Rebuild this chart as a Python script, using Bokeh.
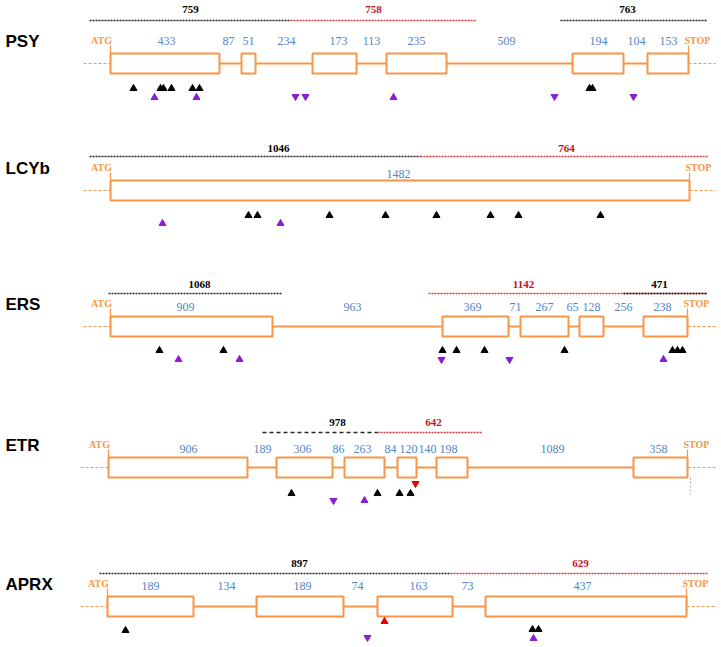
from bokeh.plotting import figure
from bokeh.models import Range1d
from bokeh.core.properties import value
from bokeh.embed import file_html
from bokeh.resources import INLINE

ORANGE = "#F79646"
BLUE = "#4F86C6"
RED = "#C0151B"
PURPLE = "#8A1FD0"
BLACK = "#000000"

genes = ["PSY", "LCYb", "ERS", "ETR", "APRX"]
gene_y = [63, 190, 326, 467, 606]

# exon boxes (diagram x units)
PSY_ex_start = [110, 241, 312, 386, 572, 647]
PSY_ex_end = [219, 255, 356, 446, 623, 688]
LCYb_ex_start = [110]
LCYb_ex_end = [689]
ERS_ex_start = [110, 442, 520, 579, 643]
ERS_ex_end = [272, 508, 568, 603, 687]
ETR_ex_start = [108, 276, 344, 397, 436, 633]
ETR_ex_end = [247, 332, 384, 416, 467, 687]
APRX_ex_start = [107, 256, 377, 485]
APRX_ex_end = [193, 343, 452, 686]

# length labels (exons and introns)
PSY_len = ["433", "87", "51", "234", "173", "113", "235", "509", "194", "104", "153"]
PSY_len_x = [166, 228, 248, 286, 338, 371, 416, 506, 598, 636, 668]
LCYb_len = ["1482"]
LCYb_len_x = [398]
ERS_len = ["909", "963", "369", "71", "267", "65", "128", "256", "238"]
ERS_len_x = [185, 352, 472, 515, 544, 572, 591, 623, 662]
ETR_len = ["906", "189", "306", "86", "263", "84", "120", "140", "198", "1089", "358"]
ETR_len_x = [188, 262, 302, 338, 362, 390, 408, 427, 448, 552, 658]
APRX_len = ["189", "134", "189", "74", "163", "73", "437"]
APRX_len_x = [150, 226, 302, 357, 418, 467, 582]
len_label_y = [40, 173, 306, 448, 585]

# fragment bars above each gene
PSY_frag = ["759", "758", "763"]
PSY_frag_x0 = [89, 290, 560]
PSY_frag_x1 = [290, 475, 707]
PSY_frag_lx = [190, 373, 627]
PSY_frag_col = [BLACK, RED, BLACK]
LCYb_frag = ["1046", "764"]
LCYb_frag_x0 = [89, 420]
LCYb_frag_x1 = [420, 707]
LCYb_frag_lx = [278, 566]
LCYb_frag_col = [BLACK, RED]
ERS_frag = ["1068", "1142", "471"]
ERS_frag_x0 = [108, 428, 623]
ERS_frag_x1 = [282, 707, 707]
ERS_frag_lx = [199, 523, 659]
ERS_frag_col = [BLACK, RED, BLACK]
ETR_frag = ["978", "642"]
ETR_frag_x0 = [262, 377]
ETR_frag_x1 = [377, 482]
ETR_frag_lx = [337, 433]
ETR_frag_col = [BLACK, RED]
APRX_frag = ["897", "629"]
APRX_frag_x0 = [99, 450]
APRX_frag_x1 = [450, 707]
APRX_frag_lx = [299, 580]
APRX_frag_col = [BLACK, RED]
frag_line_y = [20, 156, 293, 432, 573]
frag_label_y = [9, 148, 284, 422, 563]

# markers: x, y, kind (u=up, d=down), colour
PSY_mk_x = [133, 160, 163, 171, 192, 199, 154, 196, 295, 305, 393, 554, 589, 592, 633]
PSY_mk_y = [88, 88, 88, 88, 88, 88, 97, 97, 96, 96, 97, 96, 88, 88, 96]
PSY_mk_k = ["u", "u", "u", "u", "u", "u", "u", "u", "d", "d", "u", "d", "u", "u", "d"]
PSY_mk_c = [BLACK] * 6 + [PURPLE] * 6 + [BLACK, BLACK, PURPLE]
LCYb_mk_x = [162, 248, 257, 280, 329, 385, 436, 490, 518, 600]
LCYb_mk_y = [223, 215, 215, 223, 215, 215, 215, 215, 215, 215]
LCYb_mk_k = ["u"] * 10
LCYb_mk_c = [PURPLE, BLACK, BLACK, PURPLE] + [BLACK] * 6
ERS_mk_x = [159, 178, 223, 239, 442, 456, 484, 441, 509, 564, 663, 672, 677, 682]
ERS_mk_y = [350, 359, 350, 359, 350, 350, 350, 359, 359, 350, 359, 350, 350, 350]
ERS_mk_k = ["u", "u", "u", "u", "u", "u", "u", "d", "d", "u", "u", "u", "u", "u"]
ERS_mk_c = [BLACK, PURPLE, BLACK, PURPLE, BLACK, BLACK, BLACK, PURPLE, PURPLE, BLACK, PURPLE, BLACK, BLACK, BLACK]
ETR_mk_x = [291, 333, 364, 377, 399, 410, 415]
ETR_mk_y = [493, 500, 500, 493, 493, 493, 483]
ETR_mk_k = ["u", "d", "u", "u", "u", "u", "d"]
ETR_mk_c = [BLACK, PURPLE, PURPLE, BLACK, BLACK, BLACK, "#E00000"]
APRX_mk_x = [125, 384, 367, 532, 538, 533]
APRX_mk_y = [630, 621, 637, 629, 629, 638]
APRX_mk_k = ["u", "u", "d", "u", "u", "u"]
APRX_mk_c = [BLACK, "#E00000", PURPLE, BLACK, BLACK, PURPLE]

flank_left = [83, 83, 83, 80, 80]
flank_right = 715

data = {
    "PSY": (PSY_ex_start, PSY_ex_end, PSY_len, PSY_len_x, PSY_frag, PSY_frag_x0, PSY_frag_x1, PSY_frag_lx, PSY_frag_col, PSY_mk_x, PSY_mk_y, PSY_mk_k, PSY_mk_c),
    "LCYb": (LCYb_ex_start, LCYb_ex_end, LCYb_len, LCYb_len_x, LCYb_frag, LCYb_frag_x0, LCYb_frag_x1, LCYb_frag_lx, LCYb_frag_col, LCYb_mk_x, LCYb_mk_y, LCYb_mk_k, LCYb_mk_c),
    "ERS": (ERS_ex_start, ERS_ex_end, ERS_len, ERS_len_x, ERS_frag, ERS_frag_x0, ERS_frag_x1, ERS_frag_lx, ERS_frag_col, ERS_mk_x, ERS_mk_y, ERS_mk_k, ERS_mk_c),
    "ETR": (ETR_ex_start, ETR_ex_end, ETR_len, ETR_len_x, ETR_frag, ETR_frag_x0, ETR_frag_x1, ETR_frag_lx, ETR_frag_col, ETR_mk_x, ETR_mk_y, ETR_mk_k, ETR_mk_c),
    "APRX": (APRX_ex_start, APRX_ex_end, APRX_len, APRX_len_x, APRX_frag, APRX_frag_x0, APRX_frag_x1, APRX_frag_lx, APRX_frag_col, APRX_mk_x, APRX_mk_y, APRX_mk_k, APRX_mk_c),
}

p = figure(width=721, height=647, x_range=Range1d(0, 721), y_range=Range1d(647, 0),
           output_backend="svg", toolbar_location=None,
           x_axis_location=None, y_axis_location=None, min_border=0)
p.grid.visible = False
p.outline_line_color = None
p.background_fill_color = "white"

SERIF = value("Liberation Serif")
SANS = value("Liberation Sans")

for i, g in enumerate(genes):
    (es, ee, ln, lx, fr, fx0, fx1, flx, fcol, mx, my, mk, mc) = data[g]
    yc = gene_y[i]
    # gene name
    p.text(x=[5], y=[yc - 22], text=[g], text_font=SANS, text_font_style="bold",
           text_font_size="17px", text_baseline="middle", text_align="left", text_color="black")
    # flanks
    p.line([flank_left[i], es[0]], [yc, yc], line_color=ORANGE, line_width=1.2, line_dash="3 2")
    p.line([ee[-1], flank_right], [yc, yc], line_color=ORANGE, line_width=1.2, line_dash="3 2")
    # intron line
    p.line([es[0], ee[-1]], [yc, yc], line_color=ORANGE, line_width=2)
    # exons
    p.quad(left=es, right=ee, top=[yc - 10] * len(es), bottom=[yc + 10] * len(es),
           fill_color="white", line_color=ORANGE, line_width=2)
    # ATG / STOP ticks and labels
    p.segment(x0=[es[0], ee[-1]], y0=[yc - 18, yc - 18], x1=[es[0], ee[-1]], y1=[yc, yc],
              line_color=ORANGE, line_width=1.2)
    p.text(x=[es[0] - 9], y=[yc - 23], text=["ATG"], text_font=SERIF, text_font_style="bold",
           text_font_size="10px", text_align="center", text_baseline="middle", text_color=ORANGE)
    p.text(x=[ee[-1] + 9], y=[yc - 23], text=["STOP"], text_font=SERIF, text_font_style="bold",
           text_font_size="10px", text_align="center", text_baseline="middle", text_color=ORANGE)
    # length labels
    p.text(x=lx, y=[len_label_y[i]] * len(lx), text=ln, text_font=SERIF, text_font_size="12px",
           text_align="center", text_baseline="middle", text_color=BLUE)
    # fragment bars
    for k in range(len(fr)):
        dash = "4 3" if g == "ETR" and fcol[k] == BLACK else "2 1"
        p.line([fx0[k], fx1[k]], [frag_line_y[i]] * 2, line_color=fcol[k], line_width=1.6,
               line_dash=dash, line_alpha=0.85)
        p.text(x=[flx[k]], y=[frag_label_y[i]], text=[fr[k]], text_font=SERIF,
               text_font_style="bold", text_font_size="11px", text_align="center",
               text_baseline="middle", text_color=fcol[k])
    # markers
    ups = [j for j in range(len(mx)) if mk[j] == "u"]
    downs = [j for j in range(len(mx)) if mk[j] == "d"]
    if ups:
        p.scatter(x=[mx[j] for j in ups], y=[my[j] for j in ups], marker="triangle", size=7,
                  fill_color=[mc[j] for j in ups], line_color=[mc[j] for j in ups])
    if downs:
        p.scatter(x=[mx[j] for j in downs], y=[my[j] for j in downs], marker="inverted_triangle",
                  size=7, fill_color=[mc[j] for j in downs], line_color=[mc[j] for j in downs])

# grey dashed guide under ETR stop
p.line([690, 690], [477, 494], line_color="#B0B0B0", line_width=1.2, line_dash="2 2")

open("out.html", "w").write(file_html(p, INLINE))
